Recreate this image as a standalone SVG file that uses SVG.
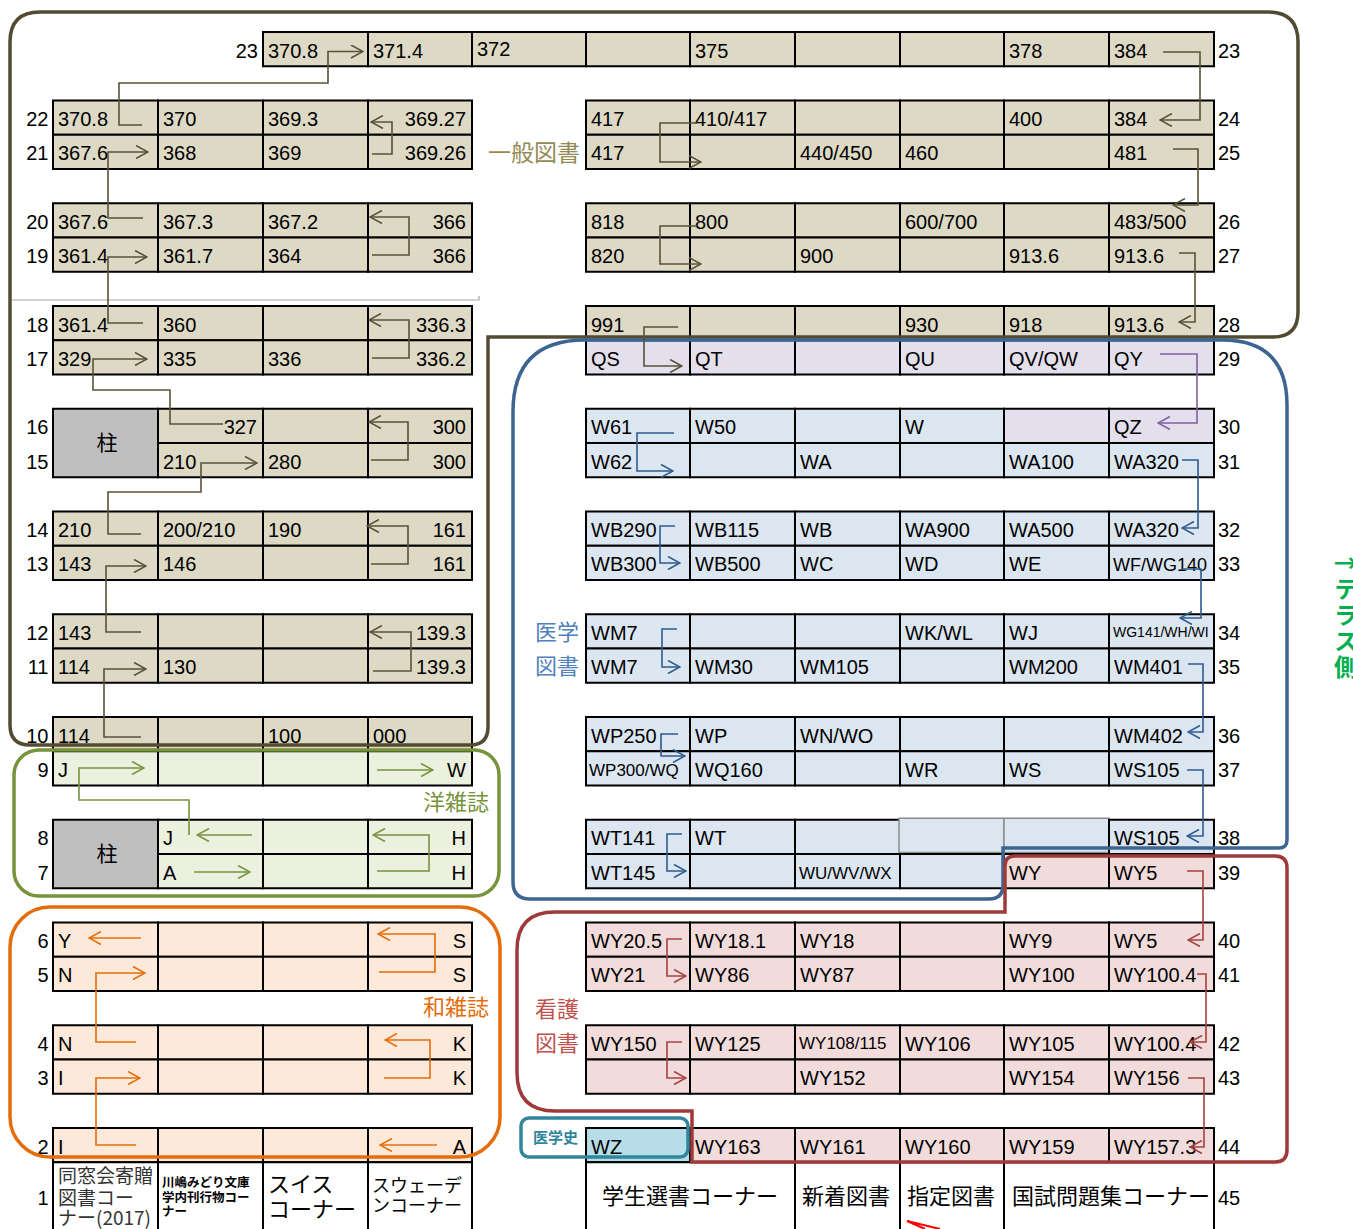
<svg xmlns="http://www.w3.org/2000/svg" width="1353" height="1229" viewBox="0 0 1353 1229">
<style>
text{font-family:"Liberation Sans","Noto Sans CJK JP",sans-serif;font-size:20px;fill:#000}
.jp{font-family:"Noto Sans CJK JP","Liberation Sans",sans-serif}
.r{text-anchor:end}
.c{stroke:#000;stroke-width:2}
.c2{stroke:#8c8c8c;stroke-width:1.5}
.tan{fill:#ddd9c4}.pur{fill:#e4dfec}.blu{fill:#dce6f1}.pnk{fill:#f2dcdb}
.grn{fill:#ebf1de}.org{fill:#fde9d9}.lbl{fill:#b7dee8}.wht{fill:#fff}.gry{fill:#bfbfbf}
.zone{fill:none;stroke-width:3.5}
.cn{fill:none;stroke-width:1.6}
.o{stroke:#5a5238;marker-end:url(#mo)}
.p{stroke:#7f62a0;marker-end:url(#mp)}
.b{stroke:#2e5b8f;marker-end:url(#mb)}
.g{stroke:#77933c;marker-end:url(#mg)}
.or{stroke:#e46c0a;marker-end:url(#mor)}
.rd{stroke:#a5413f;marker-end:url(#mr)}
.s17{font-size:17px}.s18{font-size:18px}.s14{font-size:14px}
.pil{font-size:21px;text-anchor:middle}
.zl{font-size:22px}
</style>
<defs>
<marker id="mo" markerUnits="userSpaceOnUse" viewBox="0 0 14 14" refX="13" refY="7" markerWidth="14" markerHeight="14" orient="auto"><path d="M1,0.5 L13,7 L1,13.5" fill="none" stroke="#5a5238" stroke-width="1.6"/></marker>
<marker id="mp" markerUnits="userSpaceOnUse" viewBox="0 0 14 14" refX="13" refY="7" markerWidth="14" markerHeight="14" orient="auto"><path d="M1,0.5 L13,7 L1,13.5" fill="none" stroke="#7f62a0" stroke-width="1.6"/></marker>
<marker id="mb" markerUnits="userSpaceOnUse" viewBox="0 0 14 14" refX="13" refY="7" markerWidth="14" markerHeight="14" orient="auto"><path d="M1,0.5 L13,7 L1,13.5" fill="none" stroke="#2e5b8f" stroke-width="1.6"/></marker>
<marker id="mg" markerUnits="userSpaceOnUse" viewBox="0 0 14 14" refX="13" refY="7" markerWidth="14" markerHeight="14" orient="auto"><path d="M1,0.5 L13,7 L1,13.5" fill="none" stroke="#77933c" stroke-width="1.6"/></marker>
<marker id="mor" markerUnits="userSpaceOnUse" viewBox="0 0 14 14" refX="13" refY="7" markerWidth="14" markerHeight="14" orient="auto"><path d="M1,0.5 L13,7 L1,13.5" fill="none" stroke="#e46c0a" stroke-width="1.6"/></marker>
<marker id="mr" markerUnits="userSpaceOnUse" viewBox="0 0 14 14" refX="13" refY="7" markerWidth="14" markerHeight="14" orient="auto"><path d="M1,0.5 L13,7 L1,13.5" fill="none" stroke="#a5413f" stroke-width="1.6"/></marker>
</defs>
<rect width="1353" height="1229" fill="#fff"/>

<g id="shelves">
<g id="shelf-23" transform="translate(0,32)">
<rect class="c tan" x="263" width="105" height="34.25"/><rect class="c tan" x="368" width="104" height="34.25"/><rect class="c tan" x="472" width="114" height="34.25"/><rect class="c tan" x="586" width="104" height="34.25"/><rect class="c tan" x="690" width="105" height="34.25"/><rect class="c tan" x="795" width="105" height="34.25"/><rect class="c tan" x="900" width="104" height="34.25"/><rect class="c tan" x="1004" width="105" height="34.25"/><rect class="c tan" x="1109" width="105" height="34.25"/>
<text class="r" x="258" y="25.5">23</text><text x="268" y="25.5">370.8</text><text x="373" y="25.5">371.4</text><text x="477" y="24">372</text><text x="695" y="25.5">375</text><text x="1009" y="25.5">378</text><text x="1114" y="25.5">384</text><text x="1218" y="25.5">23</text>
</g>

<g id="shelf-22" transform="translate(0,100.5)">
<rect class="c tan" x="53" width="105" height="34.25"/><rect class="c tan" x="158" width="105" height="34.25"/><rect class="c tan" x="263" width="105" height="34.25"/><rect class="c tan" x="368" width="104" height="34.25"/>
<text class="r" x="48.5" y="25.5">22</text><text x="58" y="25.5">370.8</text><text x="163" y="25.5">370</text><text x="268" y="25.5">369.3</text><text class="r" x="466" y="25.5">369.27</text>
</g>
<g id="shelf-21" transform="translate(0,134.75)">
<rect class="c tan" x="53" width="105" height="34.25"/><rect class="c tan" x="158" width="105" height="34.25"/><rect class="c tan" x="263" width="105" height="34.25"/><rect class="c tan" x="368" width="104" height="34.25"/>
<text class="r" x="48.5" y="25.5">21</text><text x="58" y="25.5">367.6</text><text x="163" y="25.5">368</text><text x="268" y="25.5">369</text><text class="r" x="466" y="25.5">369.26</text>
</g>
<g id="shelf-20" transform="translate(0,203.25)">
<rect class="c tan" x="53" width="105" height="34.25"/><rect class="c tan" x="158" width="105" height="34.25"/><rect class="c tan" x="263" width="105" height="34.25"/><rect class="c tan" x="368" width="104" height="34.25"/>
<text class="r" x="48.5" y="25.5">20</text><text x="58" y="25.5">367.6</text><text x="163" y="25.5">367.3</text><text x="268" y="25.5">367.2</text><text class="r" x="466" y="25.5">366</text>
</g>
<g id="shelf-19" transform="translate(0,237.5)">
<rect class="c tan" x="53" width="105" height="34.25"/><rect class="c tan" x="158" width="105" height="34.25"/><rect class="c tan" x="263" width="105" height="34.25"/><rect class="c tan" x="368" width="104" height="34.25"/>
<text class="r" x="48.5" y="25.5">19</text><text x="58" y="25.5">361.4</text><text x="163" y="25.5">361.7</text><text x="268" y="25.5">364</text><text class="r" x="466" y="25.5">366</text>
</g>
<g id="shelf-18" transform="translate(0,306)">
<rect class="c tan" x="53" width="105" height="34.25"/><rect class="c tan" x="158" width="105" height="34.25"/><rect class="c tan" x="263" width="105" height="34.25"/><rect class="c tan" x="368" width="104" height="34.25"/>
<text class="r" x="48.5" y="25.5">18</text><text x="58" y="25.5">361.4</text><text x="163" y="25.5">360</text><text class="r" x="466" y="25.5">336.3</text>
</g>
<g id="shelf-17" transform="translate(0,340.25)">
<rect class="c tan" x="53" width="105" height="34.25"/><rect class="c tan" x="158" width="105" height="34.25"/><rect class="c tan" x="263" width="105" height="34.25"/><rect class="c tan" x="368" width="104" height="34.25"/>
<text class="r" x="48.5" y="25.5">17</text><text x="58" y="25.5">329</text><text x="163" y="25.5">335</text><text x="268" y="25.5">336</text><text class="r" x="466" y="25.5">336.2</text>
</g>
<g id="shelf-16" transform="translate(0,408.75)">
<rect class="c tan" x="158" width="105" height="34.25"/><rect class="c tan" x="263" width="105" height="34.25"/><rect class="c tan" x="368" width="104" height="34.25"/>
<text class="r" x="48.5" y="25.5">16</text><text class="r" x="257" y="25.5">327</text><text class="r" x="466" y="25.5">300</text>
</g>
<g id="shelf-15" transform="translate(0,443)">
<rect class="c tan" x="158" width="105" height="34.25"/><rect class="c tan" x="263" width="105" height="34.25"/><rect class="c tan" x="368" width="104" height="34.25"/>
<text class="r" x="48.5" y="25.5">15</text><text x="163" y="25.5">210</text><text x="268" y="25.5">280</text><text class="r" x="466" y="25.5">300</text>
</g>
<g id="pillar-1">
<rect class="c gry" x="53" y="408.75" width="105" height="68.5"/>
<text class="jp pil" x="107" y="450">柱</text>
</g>
<g id="shelf-14" transform="translate(0,511.5)">
<rect class="c tan" x="53" width="105" height="34.25"/><rect class="c tan" x="158" width="105" height="34.25"/><rect class="c tan" x="263" width="105" height="34.25"/><rect class="c tan" x="368" width="104" height="34.25"/>
<text class="r" x="48.5" y="25.5">14</text><text x="58" y="25.5">210</text><text x="163" y="25.5">200/210</text><text x="268" y="25.5">190</text><text class="r" x="466" y="25.5">161</text>
</g>
<g id="shelf-13" transform="translate(0,545.75)">
<rect class="c tan" x="53" width="105" height="34.25"/><rect class="c tan" x="158" width="105" height="34.25"/><rect class="c tan" x="263" width="105" height="34.25"/><rect class="c tan" x="368" width="104" height="34.25"/>
<text class="r" x="48.5" y="25.5">13</text><text x="58" y="25.5">143</text><text x="163" y="25.5">146</text><text class="r" x="466" y="25.5">161</text>
</g>
<g id="shelf-12" transform="translate(0,614.25)">
<rect class="c tan" x="53" width="105" height="34.25"/><rect class="c tan" x="158" width="105" height="34.25"/><rect class="c tan" x="263" width="105" height="34.25"/><rect class="c tan" x="368" width="104" height="34.25"/>
<text class="r" x="48.5" y="25.5">12</text><text x="58" y="25.5">143</text><text class="r" x="466" y="25.5">139.3</text>
</g>
<g id="shelf-11" transform="translate(0,648.5)">
<rect class="c tan" x="53" width="105" height="34.25"/><rect class="c tan" x="158" width="105" height="34.25"/><rect class="c tan" x="263" width="105" height="34.25"/><rect class="c tan" x="368" width="104" height="34.25"/>
<text class="r" x="48.5" y="25.5">11</text><text x="58" y="25.5">114</text><text x="163" y="25.5">130</text><text class="r" x="466" y="25.5">139.3</text>
</g>
<g id="shelf-10" transform="translate(0,717)">
<rect class="c tan" x="53" width="105" height="34.25"/><rect class="c tan" x="158" width="105" height="34.25"/><rect class="c tan" x="263" width="105" height="34.25"/><rect class="c tan" x="368" width="104" height="34.25"/>
<text class="r" x="48.5" y="25.5">10</text><text x="58" y="25.5">114</text><text x="268" y="25.5">100</text><text x="373" y="25.5">000</text>
</g>
<g id="shelf-9" transform="translate(0,751.25)">
<rect class="c grn" x="53" width="105" height="34.25"/><rect class="c grn" x="158" width="105" height="34.25"/><rect class="c grn" x="263" width="105" height="34.25"/><rect class="c grn" x="368" width="104" height="34.25"/>
<text class="r" x="48.5" y="25.5">9</text><text x="58" y="25.5">J</text><text class="r" x="466" y="25.5">W</text>
</g>
<g id="shelf-8" transform="translate(0,819.75)">
<rect class="c grn" x="158" width="105" height="34.25"/><rect class="c grn" x="263" width="105" height="34.25"/><rect class="c grn" x="368" width="104" height="34.25"/>
<text class="r" x="48.5" y="25.5">8</text><text x="163" y="25.5">J</text><text class="r" x="466" y="25.5">H</text>
</g>
<g id="shelf-7" transform="translate(0,854)">
<rect class="c grn" x="158" width="105" height="34.25"/><rect class="c grn" x="263" width="105" height="34.25"/><rect class="c grn" x="368" width="104" height="34.25"/>
<text class="r" x="48.5" y="25.5">7</text><text x="163" y="25.5">A</text><text class="r" x="466" y="25.5">H</text>
</g>
<g id="pillar-2">
<rect class="c gry" x="53" y="819.75" width="105" height="68.5"/>
<text class="jp pil" x="107" y="861">柱</text>
</g>
<g id="shelf-6" transform="translate(0,922.5)">
<rect class="c org" x="53" width="105" height="34.25"/><rect class="c org" x="158" width="105" height="34.25"/><rect class="c org" x="263" width="105" height="34.25"/><rect class="c org" x="368" width="104" height="34.25"/>
<text class="r" x="48.5" y="25.5">6</text><text x="58" y="25.5">Y</text><text class="r" x="466" y="25.5">S</text>
</g>
<g id="shelf-5" transform="translate(0,956.75)">
<rect class="c org" x="53" width="105" height="34.25"/><rect class="c org" x="158" width="105" height="34.25"/><rect class="c org" x="263" width="105" height="34.25"/><rect class="c org" x="368" width="104" height="34.25"/>
<text class="r" x="48.5" y="25.5">5</text><text x="58" y="25.5">N</text><text class="r" x="466" y="25.5">S</text>
</g>
<g id="shelf-4" transform="translate(0,1025.25)">
<rect class="c org" x="53" width="105" height="34.25"/><rect class="c org" x="158" width="105" height="34.25"/><rect class="c org" x="263" width="105" height="34.25"/><rect class="c org" x="368" width="104" height="34.25"/>
<text class="r" x="48.5" y="25.5">4</text><text x="58" y="25.5">N</text><text class="r" x="466" y="25.5">K</text>
</g>
<g id="shelf-3" transform="translate(0,1059.5)">
<rect class="c org" x="53" width="105" height="34.25"/><rect class="c org" x="158" width="105" height="34.25"/><rect class="c org" x="263" width="105" height="34.25"/><rect class="c org" x="368" width="104" height="34.25"/>
<text class="r" x="48.5" y="25.5">3</text><text x="58" y="25.5">I</text><text class="r" x="466" y="25.5">K</text>
</g>
<g id="shelf-2" transform="translate(0,1128)">
<rect class="c org" x="53" width="105" height="34.25"/><rect class="c org" x="158" width="105" height="34.25"/><rect class="c org" x="263" width="105" height="34.25"/><rect class="c org" x="368" width="104" height="34.25"/>
<text class="r" x="48.5" y="25.5">2</text><text x="58" y="25.5">I</text><text class="r" x="466" y="25.5">A</text>
</g>
<g id="shelf-1" transform="translate(0,1162.25)">
<rect class="c wht" x="53" width="105" height="80"/><rect class="c wht" x="158" width="105" height="80"/><rect class="c wht" x="263" width="105" height="80"/><rect class="c wht" x="368" width="104" height="80"/>
<text class="r" x="48.5" y="43">1</text>
<text class="jp" style="font-size:19px;fill:#333"><tspan x="58" y="21">同窓会寄贈</tspan><tspan x="58" y="43">図書コー</tspan><tspan x="58" y="63">ナー(2017)</tspan></text>
<text class="jp" style="font-size:12.5px;font-weight:bold"><tspan x="162" y="25">川嶋みどり文庫</tspan><tspan x="162" y="40">学内刊行物コー</tspan><tspan x="162" y="54">ナー</tspan></text>
<text class="jp" style="font-size:22px"><tspan x="268" y="30">スイス</tspan><tspan x="268" y="55">コーナー</tspan></text>
<text class="jp" style="font-size:18px"><tspan x="372" y="30">スウェーデ</tspan><tspan x="372" y="50">ンコーナー</tspan></text>
</g>

<g id="shelf-24" transform="translate(0,100.5)">
<rect class="c tan" x="586" width="104" height="34.25"/><rect class="c tan" x="690" width="105" height="34.25"/><rect class="c tan" x="795" width="105" height="34.25"/><rect class="c tan" x="900" width="104" height="34.25"/><rect class="c tan" x="1004" width="105" height="34.25"/><rect class="c tan" x="1109" width="105" height="34.25"/>
<text x="591" y="25.5">417</text><text x="695" y="25.5">410/417</text><text x="1009" y="25.5">400</text><text x="1114" y="25.5">384</text><text x="1218" y="25.5">24</text>
</g>
<g id="shelf-25" transform="translate(0,134.75)">
<rect class="c tan" x="586" width="104" height="34.25"/><rect class="c tan" x="690" width="105" height="34.25"/><rect class="c tan" x="795" width="105" height="34.25"/><rect class="c tan" x="900" width="104" height="34.25"/><rect class="c tan" x="1004" width="105" height="34.25"/><rect class="c tan" x="1109" width="105" height="34.25"/>
<text x="591" y="25.5">417</text><text x="800" y="25.5">440/450</text><text x="905" y="25.5">460</text><text x="1114" y="25.5">481</text><text x="1218" y="25.5">25</text>
</g>
<g id="shelf-26" transform="translate(0,203.25)">
<rect class="c tan" x="586" width="104" height="34.25"/><rect class="c tan" x="690" width="105" height="34.25"/><rect class="c tan" x="795" width="105" height="34.25"/><rect class="c tan" x="900" width="104" height="34.25"/><rect class="c tan" x="1004" width="105" height="34.25"/><rect class="c tan" x="1109" width="105" height="34.25"/>
<text x="591" y="25.5">818</text><text x="695" y="25.5">800</text><text x="905" y="25.5">600/700</text><text x="1114" y="25.5">483/500</text><text x="1218" y="25.5">26</text>
</g>
<g id="shelf-27" transform="translate(0,237.5)">
<rect class="c tan" x="586" width="104" height="34.25"/><rect class="c tan" x="690" width="105" height="34.25"/><rect class="c tan" x="795" width="105" height="34.25"/><rect class="c tan" x="900" width="104" height="34.25"/><rect class="c tan" x="1004" width="105" height="34.25"/><rect class="c tan" x="1109" width="105" height="34.25"/>
<text x="591" y="25.5">820</text><text x="800" y="25.5">900</text><text x="1009" y="25.5">913.6</text><text x="1114" y="25.5">913.6</text><text x="1218" y="25.5">27</text>
</g>
<g id="shelf-28" transform="translate(0,306)">
<rect class="c tan" x="586" width="104" height="34.25"/><rect class="c tan" x="690" width="105" height="34.25"/><rect class="c tan" x="795" width="105" height="34.25"/><rect class="c tan" x="900" width="104" height="34.25"/><rect class="c tan" x="1004" width="105" height="34.25"/><rect class="c tan" x="1109" width="105" height="34.25"/>
<text x="591" y="25.5">991</text><text x="905" y="25.5">930</text><text x="1009" y="25.5">918</text><text x="1114" y="25.5">913.6</text><text x="1218" y="25.5">28</text>
</g>
<g id="shelf-29" transform="translate(0,340.25)">
<rect class="c pur" x="586" width="104" height="34.25"/><rect class="c pur" x="690" width="105" height="34.25"/><rect class="c pur" x="795" width="105" height="34.25"/><rect class="c pur" x="900" width="104" height="34.25"/><rect class="c pur" x="1004" width="105" height="34.25"/><rect class="c pur" x="1109" width="105" height="34.25"/>
<text x="591" y="25.5">QS</text><text x="695" y="25.5">QT</text><text x="905" y="25.5">QU</text><text x="1009" y="25.5">QV/QW</text><text x="1114" y="25.5">QY</text><text x="1218" y="25.5">29</text>
</g>
<g id="shelf-30" transform="translate(0,408.75)">
<rect class="c blu" x="586" width="104" height="34.25"/><rect class="c blu" x="690" width="105" height="34.25"/><rect class="c blu" x="795" width="105" height="34.25"/><rect class="c blu" x="900" width="104" height="34.25"/><rect class="c pur" x="1004" width="105" height="34.25"/><rect class="c pur" x="1109" width="105" height="34.25"/>
<text x="591" y="25.5">W61</text><text x="695" y="25.5">W50</text><text x="905" y="25.5">W</text><text x="1114" y="25.5">QZ</text><text x="1218" y="25.5">30</text>
</g>
<g id="shelf-31" transform="translate(0,443)">
<rect class="c blu" x="586" width="104" height="34.25"/><rect class="c blu" x="690" width="105" height="34.25"/><rect class="c blu" x="795" width="105" height="34.25"/><rect class="c blu" x="900" width="104" height="34.25"/><rect class="c blu" x="1004" width="105" height="34.25"/><rect class="c blu" x="1109" width="105" height="34.25"/>
<text x="591" y="25.5">W62</text><text x="800" y="25.5">WA</text><text x="1009" y="25.5">WA100</text><text x="1114" y="25.5">WA320</text><text x="1218" y="25.5">31</text>
</g>
<g id="shelf-32" transform="translate(0,511.5)">
<rect class="c blu" x="586" width="104" height="34.25"/><rect class="c blu" x="690" width="105" height="34.25"/><rect class="c blu" x="795" width="105" height="34.25"/><rect class="c blu" x="900" width="104" height="34.25"/><rect class="c blu" x="1004" width="105" height="34.25"/><rect class="c blu" x="1109" width="105" height="34.25"/>
<text x="591" y="25.5">WB290</text><text x="695" y="25.5">WB115</text><text x="800" y="25.5">WB</text><text x="905" y="25.5">WA900</text><text x="1009" y="25.5">WA500</text><text x="1114" y="25.5">WA320</text><text x="1218" y="25.5">32</text>
</g>
<g id="shelf-33" transform="translate(0,545.75)">
<rect class="c blu" x="586" width="104" height="34.25"/><rect class="c blu" x="690" width="105" height="34.25"/><rect class="c blu" x="795" width="105" height="34.25"/><rect class="c blu" x="900" width="104" height="34.25"/><rect class="c blu" x="1004" width="105" height="34.25"/><rect class="c blu" x="1109" width="105" height="34.25"/>
<text x="591" y="25.5">WB300</text><text x="695" y="25.5">WB500</text><text x="800" y="25.5">WC</text><text x="905" y="25.5">WD</text><text x="1009" y="25.5">WE</text><text class="s18" x="1113" y="25">WF/WG140</text><text x="1218" y="25.5">33</text>
</g>
<g id="shelf-34" transform="translate(0,614.25)">
<rect class="c blu" x="586" width="104" height="34.25"/><rect class="c blu" x="690" width="105" height="34.25"/><rect class="c blu" x="795" width="105" height="34.25"/><rect class="c blu" x="900" width="104" height="34.25"/><rect class="c blu" x="1004" width="105" height="34.25"/><rect class="c blu" x="1109" width="105" height="34.25"/>
<text x="591" y="25.5">WM7</text><text x="905" y="25.5">WK/WL</text><text x="1009" y="25.5">WJ</text><text class="s14" x="1113" y="23">WG141/WH/WI</text><text x="1218" y="25.5">34</text>
</g>
<g id="shelf-35" transform="translate(0,648.5)">
<rect class="c blu" x="586" width="104" height="34.25"/><rect class="c blu" x="690" width="105" height="34.25"/><rect class="c blu" x="795" width="105" height="34.25"/><rect class="c blu" x="900" width="104" height="34.25"/><rect class="c blu" x="1004" width="105" height="34.25"/><rect class="c blu" x="1109" width="105" height="34.25"/>
<text x="591" y="25.5">WM7</text><text x="695" y="25.5">WM30</text><text x="800" y="25.5">WM105</text><text x="1009" y="25.5">WM200</text><text x="1114" y="25.5">WM401</text><text x="1218" y="25.5">35</text>
</g>
<g id="shelf-36" transform="translate(0,717)">
<rect class="c blu" x="586" width="104" height="34.25"/><rect class="c blu" x="690" width="105" height="34.25"/><rect class="c blu" x="795" width="105" height="34.25"/><rect class="c blu" x="900" width="104" height="34.25"/><rect class="c blu" x="1004" width="105" height="34.25"/><rect class="c blu" x="1109" width="105" height="34.25"/>
<text x="591" y="25.5">WP250</text><text x="695" y="25.5">WP</text><text x="800" y="25.5">WN/WO</text><text x="1114" y="25.5">WM402</text><text x="1218" y="25.5">36</text>
</g>
<g id="shelf-37" transform="translate(0,751.25)">
<rect class="c blu" x="586" width="104" height="34.25"/><rect class="c blu" x="690" width="105" height="34.25"/><rect class="c blu" x="795" width="105" height="34.25"/><rect class="c blu" x="900" width="104" height="34.25"/><rect class="c blu" x="1004" width="105" height="34.25"/><rect class="c blu" x="1109" width="105" height="34.25"/>
<text class="s17" x="589" y="25">WP300/WQ</text><text x="695" y="25.5">WQ160</text><text x="905" y="25.5">WR</text><text x="1009" y="25.5">WS</text><text x="1114" y="25.5">WS105</text><text x="1218" y="25.5">37</text>
</g>
<g id="shelf-38" transform="translate(0,819.75)">
<rect class="c blu" x="586" width="104" height="34.25"/><rect class="c blu" x="690" width="105" height="34.25"/><rect class="c blu" x="795" width="105" height="34.25"/><rect class="c2 blu" x="899" y="-1.5" width="105" height="34.25"/><rect class="c2 blu" x="1004" y="-1.5" width="105" height="34.25"/><rect class="c blu" x="1109" width="105" height="34.25"/>
<text x="591" y="25.5">WT141</text><text x="695" y="25.5">WT</text><text x="1114" y="25.5">WS105</text><text x="1218" y="25.5">38</text>
</g>
<g id="shelf-39" transform="translate(0,854)">
<rect class="c blu" x="586" width="104" height="34.25"/><rect class="c blu" x="690" width="105" height="34.25"/><rect class="c blu" x="795" width="105" height="34.25"/><rect class="c blu" x="900" width="104" height="34.25"/><rect class="c pnk" x="1004" width="105" height="34.25"/><rect class="c pnk" x="1109" width="105" height="34.25"/>
<text x="591" y="25.5">WT145</text><text class="s17" x="799" y="25">WU/WV/WX</text><text x="1009" y="25.5">WY</text><text x="1114" y="25.5">WY5</text><text x="1218" y="25.5">39</text>
</g>
<g id="shelf-40" transform="translate(0,922.5)">
<rect class="c pnk" x="586" width="104" height="34.25"/><rect class="c pnk" x="690" width="105" height="34.25"/><rect class="c pnk" x="795" width="105" height="34.25"/><rect class="c pnk" x="900" width="104" height="34.25"/><rect class="c pnk" x="1004" width="105" height="34.25"/><rect class="c pnk" x="1109" width="105" height="34.25"/>
<text x="591" y="25.5">WY20.5</text><text x="695" y="25.5">WY18.1</text><text x="800" y="25.5">WY18</text><text x="1009" y="25.5">WY9</text><text x="1114" y="25.5">WY5</text><text x="1218" y="25.5">40</text>
</g>
<g id="shelf-41" transform="translate(0,956.75)">
<rect class="c pnk" x="586" width="104" height="34.25"/><rect class="c pnk" x="690" width="105" height="34.25"/><rect class="c pnk" x="795" width="105" height="34.25"/><rect class="c pnk" x="900" width="104" height="34.25"/><rect class="c pnk" x="1004" width="105" height="34.25"/><rect class="c pnk" x="1109" width="105" height="34.25"/>
<text x="591" y="25.5">WY21</text><text x="695" y="25.5">WY86</text><text x="800" y="25.5">WY87</text><text x="1009" y="25.5">WY100</text><text x="1114" y="25.5">WY100.4</text><text x="1218" y="25.5">41</text>
</g>
<g id="shelf-42" transform="translate(0,1025.25)">
<rect class="c pnk" x="586" width="104" height="34.25"/><rect class="c pnk" x="690" width="105" height="34.25"/><rect class="c pnk" x="795" width="105" height="34.25"/><rect class="c pnk" x="900" width="104" height="34.25"/><rect class="c pnk" x="1004" width="105" height="34.25"/><rect class="c pnk" x="1109" width="105" height="34.25"/>
<text x="591" y="25.5">WY150</text><text x="695" y="25.5">WY125</text><text class="s17" x="799" y="24">WY108/115</text><text x="905" y="25.5">WY106</text><text x="1009" y="25.5">WY105</text><text x="1114" y="25.5">WY100.4</text><text x="1218" y="25.5">42</text>
</g>
<g id="shelf-43" transform="translate(0,1059.5)">
<rect class="c pnk" x="586" width="104" height="34.25"/><rect class="c pnk" x="690" width="105" height="34.25"/><rect class="c pnk" x="795" width="105" height="34.25"/><rect class="c pnk" x="900" width="104" height="34.25"/><rect class="c pnk" x="1004" width="105" height="34.25"/><rect class="c pnk" x="1109" width="105" height="34.25"/>
<text x="800" y="25.5">WY152</text><text x="1009" y="25.5">WY154</text><text x="1114" y="25.5">WY156</text><text x="1218" y="25.5">43</text>
</g>
<g id="shelf-44" transform="translate(0,1128)">
<rect class="c lbl" x="586" width="104" height="34.25"/><rect class="c pnk" x="690" width="105" height="34.25"/><rect class="c pnk" x="795" width="105" height="34.25"/><rect class="c pnk" x="900" width="104" height="34.25"/><rect class="c pnk" x="1004" width="105" height="34.25"/><rect class="c pnk" x="1109" width="105" height="34.25"/>
<text x="591" y="25.5">WZ</text><text x="695" y="25.5">WY163</text><text x="800" y="25.5">WY161</text><text x="905" y="25.5">WY160</text><text x="1009" y="25.5">WY159</text><text x="1114" y="25.5">WY157.3</text><text x="1218" y="25.5">44</text>
</g>
<g id="shelf-45" transform="translate(0,1162.25)">
<rect class="c wht" x="586" width="209" height="80"/><rect class="c wht" x="795" width="105" height="80"/><rect class="c wht" x="900" width="104" height="80"/><rect class="c wht" x="1004" width="210" height="80"/>
<text class="jp zl" x="602" y="42">学生選書コーナー</text><text class="jp zl" x="802" y="42">新着図書</text><text class="jp zl" x="907" y="42">指定図書</text><text class="jp zl" x="1012" y="42">国試問題集コーナー</text><text x="1218" y="43">45</text>
</g>
</g>

<g id="zones">
<path class="zone" stroke="#524b32" stroke-width="4" d="M40,12 H1268 Q1298,12 1298,42 V312 Q1298,337 1273,337 H488 V727 Q488,745 470,745 H30 Q10,745 10,725 V42 Q10,12 40,12 Z"/>
<path fill="none" stroke="#a6a6a6" stroke-width="1.2" d="M12,300 H479 V296"/>
<path class="zone" stroke="#3c6591" d="M585,340 H1222 Q1287,340 1287,405 V840 Q1287,848 1279,848 H1003 V885 Q1003,899 989,899 H530 Q513,899 513,882 V412 Q513,340 585,340 Z"/>
<path class="zone" stroke="#9e3b3a" d="M1005,912 V866 Q1005,856 1015,856 H1275 Q1287,856 1287,868 V1150 Q1287,1162 1275,1162 H692 V1111 H555 Q517,1111 517,1073 V950 Q517,912 555,912 Z"/>
<rect class="zone" stroke="#77933c" x="14" y="750" width="485" height="146" rx="25"/>
<rect class="zone" stroke="#e46c0a" x="10" y="907" width="490" height="250" rx="40"/>
<rect class="zone" stroke="#31859c" x="521" y="1118" width="167" height="39" rx="8"/>
</g>

<g id="connectors">
<path class="cn o" d="M142,125 H119 V83 H328 V51.5 H363"/>
<path class="cn o" d="M372,154 H392 V122 H371"/>
<path class="cn o" d="M143,218 H108 V152 H148"/>
<path class="cn o" d="M372,255 H409 V217 H370"/>
<path class="cn o" d="M143,323 H108 V257 H147"/>
<path class="cn o" d="M372,358 H409 V320 H369"/>
<path class="cn o" d="M223,424 H170 V390 H93 V359 H147"/>
<path class="cn o" d="M371,460 H408 V422 H369"/>
<path class="cn o" d="M141,534 H108 V492 H201 V463 H257"/>
<path class="cn o" d="M371,564 H408 V526 H367"/>
<path class="cn o" d="M141,632 H106 V566 H146"/>
<path class="cn o" d="M373,671 H411 V632 H370"/>
<path class="cn o" d="M141,737 H104 V669 H146"/>
<path class="cn o" d="M697,123 H660 V162 H701"/>
<path class="cn o" d="M697,226 H660 V264 H701"/>
<path class="cn o" d="M1163,52 H1200 V120 H1160"/>
<path class="cn o" d="M1173,149 H1198 V205 H1173"/>
<path class="cn o" d="M1179,253 H1195 V322 H1179"/>
<path class="cn o" d="M678,327 H644 V366 H682"/>
<path class="cn p" d="M1160,354 H1197 V423 H1158"/>
<path class="cn b" d="M674,433 H637 V471 H673"/>
<path class="cn b" d="M1182,460 H1198 V528 H1182"/>
<path class="cn b" d="M675,526 H660 V563 H680"/>
<path class="cn b" d="M1181,569 H1201 V618 H1180"/>
<path class="cn b" d="M677,629 H662 V667 H680"/>
<path class="cn b" d="M1188,664 H1203 V732 H1188"/>
<path class="cn b" d="M678,734 H661 V756 H685"/>
<path class="cn b" d="M1187,770 H1203 V836 H1187"/>
<path class="cn b" d="M682,834 H667 V871 H686"/>
<path class="cn g" d="M252,835 H197"/>
<path class="cn g" d="M189,835 V800 H79 V768 H144"/>
<path class="cn g" d="M377,871 H429 V835 H373"/>
<path class="cn g" d="M194,872 H250"/>
<path class="cn g" d="M377,770 H433"/>
<path class="cn or" d="M141,938 H89"/>
<path class="cn or" d="M379,972 H435 V934 H378"/>
<path class="cn or" d="M136,1042 H96 V973 H145"/>
<path class="cn or" d="M384,1078 H430 V1040 H385"/>
<path class="cn or" d="M136,1145 H96 V1078 H140"/>
<path class="cn or" d="M437,1145 H380"/>
<path class="cn rd" d="M1187,871 H1203 V940 H1188"/>
<path class="cn rd" d="M682,939 H667 V976 H686"/>
<path class="cn rd" d="M1197,974 H1206 V1042 H1190"/>
<path class="cn rd" d="M682,1042 H667 V1078 H686"/>
<path class="cn rd" d="M1188,1078 H1204 V1147 H1190"/>
<path fill="none" stroke="#ff0000" stroke-width="2" d="M940,1229 L907,1221 L925,1229"/>
</g>

<g id="labels">
<text class="jp" x="488" y="160.5" style="font-size:23px;fill:#948a54">一般図書</text>
<text class="jp" x="535" y="640" style="font-size:22px;fill:#4f81bd">医学</text>
<text class="jp" x="535" y="674" style="font-size:22px;fill:#4f81bd">図書</text>
<text class="jp" x="535" y="1017" style="font-size:22px;fill:#c0504d">看護</text>
<text class="jp" x="535" y="1051" style="font-size:22px;fill:#c0504d">図書</text>
<text class="jp" x="423" y="810" style="font-size:22px;fill:#77933c">洋雑誌</text>
<text class="jp" x="423" y="1015" style="font-size:22px;fill:#e46c0a">和雑誌</text>
<text class="jp" x="533" y="1142.5" style="font-size:15px;font-weight:bold;fill:#31859c">医学史</text>
<text class="jp" x="1346" y="551" style="font-size:24px;font-weight:bold;fill:#00b050;letter-spacing:2px;writing-mode:vertical-rl;text-orientation:upright">→テラス側</text>
</g>
</svg>
